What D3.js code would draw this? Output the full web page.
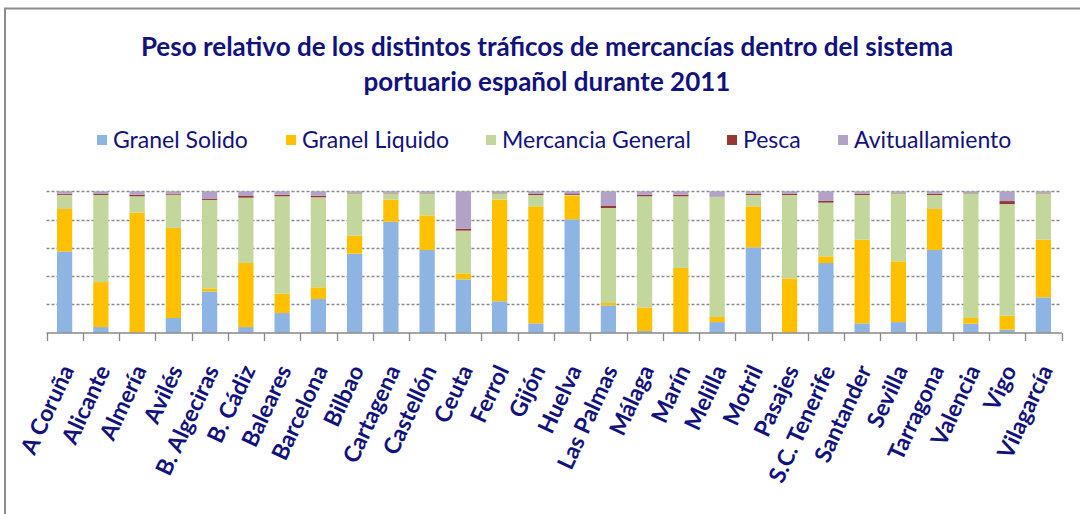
<!DOCTYPE html>
<html>
<head>
<meta charset="utf-8">
<script src="https://cdn.jsdelivr.net/npm/d3@7"></script>
<style>
  html, body { margin: 0; padding: 0; background: #fff; }
  svg { display: block; }
</style>
</head>
<body>
<svg id="chart" width="1080" height="514"></svg>
<script>
const categories = ["A Coruña","Alicante","Almería","Avilés","B. Algeciras","B. Cádiz","Baleares","Barcelona","Bilbao","Cartagena","Castellón","Ceuta","Ferrol","Gijón","Huelva","Las Palmas","Málaga","Marín","Melilla","Motril","Pasajes","S.C. Tenerife","Santander","Sevilla","Tarragona","Valencia","Vigo","Vilagarcía"];
const seriesNames = ["Granel Solido","Granel Liquido","Mercancia General","Pesca","Avituallamiento"];
const granelSolido     = [57.5, 4.0, 0.2, 10.4, 29.2, 4.0, 13.9, 23.8, 55.9, 78.5, 58.5, 37.7, 22.2, 6.6, 80.2, 19.3, 1.2, 0.3, 7.5, 60.4, 0.2, 49.3, 6.6, 7.5, 58.5, 6.4, 2.1, 25.0];
const granelLiquido    = [30.0, 31.8, 84.7, 63.7, 2.2, 45.3, 13.7, 8.3, 12.7, 15.6, 24.5, 4.3, 71.9, 82.8, 16.7, 1.7, 16.5, 45.5, 3.6, 29.0, 38.2, 4.7, 59.2, 43.0, 29.0, 4.0, 9.9, 40.8];
const mercanciaGeneral = [10.0, 61.6, 11.6, 23.5, 62.5, 46.2, 68.9, 63.7, 30.0, 4.5, 15.6, 30.2, 4.5, 8.0, 0.6, 67.2, 78.8, 50.7, 84.9, 8.0, 59.0, 38.0, 31.6, 48.1, 9.9, 88.2, 79.0, 32.8];
const pesca            = [0.7, 0.7, 1.0, 0.7, 1.0, 1.2, 1.0, 1.0, 0.3, 0.3, 0.3, 1.2, 0.2, 1.0, 1.0, 1.4, 1.0, 1.0, 0.2, 1.0, 1.0, 1.2, 1.0, 0.3, 1.0, 0.2, 2.1, 0.3];
const avituallamiento  = [1.8, 1.9, 2.5, 1.7, 5.1, 3.3, 2.5, 3.2, 1.1, 1.1, 1.1, 26.6, 1.2, 1.6, 1.5, 10.4, 2.5, 2.5, 3.8, 1.6, 1.6, 6.8, 1.6, 1.1, 1.6, 1.2, 6.9, 1.1];
const yTicks = [0, 0.2, 0.4, 0.6, 0.8, 1];
const colors = ["#8EB4E3", "#FFC000", "#C3D69B", "#953735", "#B3A2C7"];
const titleLines = ["Peso relativo de los distintos tráficos de mercancías dentro del sistema", "portuario español durante 2011"];

const seriesArrays = [granelSolido, granelLiquido, mercanciaGeneral, pesca, avituallamiento];
const rows = categories.map((c, i) => {
  const r = { cat: c };
  seriesNames.forEach((s, j) => r[s] = seriesArrays[j][i]);
  return r;
});

const svg = d3.select("#chart");
const textColor = "#12127E";
const font = "Lato, 'Open Sans', sans-serif";

// border
svg.append("path")
  .attr("d", "M5,520 L5,8.5 L1085,8.5")
  .attr("fill", "none").attr("stroke", "#8C8C8C").attr("stroke-width", 2);

// title
svg.append("g").selectAll("text").data(titleLines).join("text")
  .attr("x", 547).attr("y", (d, i) => 56 + i * 35)
  .attr("text-anchor", "middle")
  .attr("font-family", font).attr("font-weight", "bold").attr("font-size", 26)
  .attr("fill", textColor)
  .text(d => d);

// legend
const legendX = [97, 286, 486, 727, 838];
const lg = svg.append("g").selectAll("g").data(seriesNames).join("g")
  .attr("transform", (d, i) => `translate(${legendX[i]},140)`);
lg.append("rect").attr("x", 0).attr("y", -5).attr("width", 10).attr("height", 10)
  .attr("fill", (d, i) => colors[i]);
lg.append("text").attr("x", 16).attr("y", 8)
  .attr("font-family", font).attr("font-size", 23).attr("fill", textColor)
  .text(d => d);

// scales
const x = d3.scaleBand().domain(categories).range([46.5, 1061.5]).paddingInner(0.58).paddingOuter(0.29);
const xTickScale = d3.scaleLinear().domain([0, categories.length]).range([46.5, 1061.5]);
const y = d3.scaleLinear().domain([0, 1]).range([332.7, 191.3]);

// gridlines
svg.append("g").selectAll("line").data(yTicks.filter(t => t > 0)).join("line")
  .attr("x1", 46.5).attr("x2", 1061.5)
  .attr("y1", d => Math.round(y(d)) + 0.5).attr("y2", d => Math.round(y(d)) + 0.5)
  .attr("stroke", "#8A8A8A").attr("stroke-width", 1.3).attr("stroke-dasharray", "3,2");

// stacked bars
const stack = d3.stack().keys(seriesNames).offset(d3.stackOffsetExpand);
const stacked = stack(rows);
svg.append("g").selectAll("g").data(stacked).join("g")
  .attr("fill", (d, i) => colors[i])
  .selectAll("rect").data(d => d).join("rect")
  .attr("x", d => x(d.data.cat))
  .attr("width", x.bandwidth())
  .attr("y", d => y(d[1]))
  .attr("height", d => Math.max(0, y(d[0]) - y(d[1])));

// x axis
svg.append("line")
  .attr("x1", 46.5).attr("x2", 1062).attr("y1", 333).attr("y2", 333)
  .attr("stroke", "#888").attr("stroke-width", 1.5);
svg.append("g").selectAll("line").data(d3.range(categories.length + 1)).join("line")
  .attr("x1", d => Math.round(xTickScale(d)) + 0.5).attr("x2", d => Math.round(xTickScale(d)) + 0.5)
  .attr("y1", 333).attr("y2", 341)
  .attr("stroke", "#888").attr("stroke-width", 1.3);

// category labels
svg.append("g").selectAll("text").data(categories).join("text")
  .attr("transform", d => `translate(${x(d) + x.bandwidth() / 2 + 10},370) rotate(-65)`)
  .attr("text-anchor", "end")
  .attr("font-family", font).attr("font-weight", "bold").attr("font-size", 23)
  .attr("fill", textColor)
  .text(d => d);
</script>
</body>
</html>
